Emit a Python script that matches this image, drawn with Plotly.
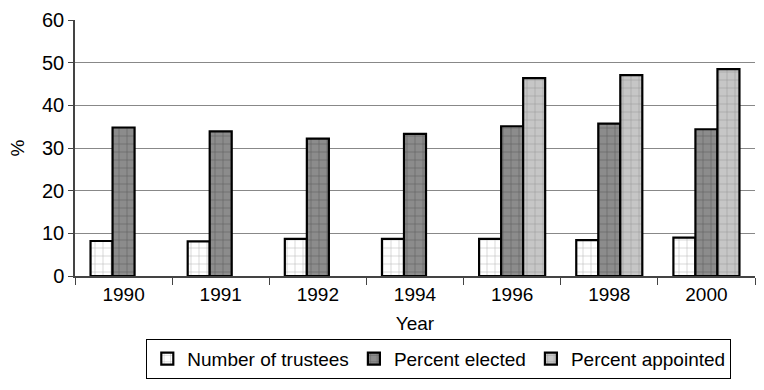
import plotly.graph_objects as go

years = ["1990", "1991", "1992", "1994", "1996", "1998", "2000"]
number_of_trustees = [8.2, 8.1, 8.7, 8.7, 8.7, 8.4, 9.0]
percent_elected = [34.8, 33.9, 32.2, 33.3, 35.1, 35.7, 34.4]
percent_appointed = [None, None, None, None, 46.4, 47.1, 48.5]
y_ticks = [0, 10, 20, 30, 40, 50, 60]

font_family = "Liberation Sans, Arial, sans-serif"

fig = go.Figure()
fig.add_trace(go.Bar(
    x=years, y=number_of_trustees, name="Number of trustees",
    marker=dict(color="white", line=dict(color="black", width=2.2),
                pattern=dict(shape="+", fgcolor="#666666", bgcolor="white",
                             size=8, solidity=0.12)),
))
fig.add_trace(go.Bar(
    x=years, y=percent_elected, name="Percent elected",
    marker=dict(color="#777777", line=dict(color="black", width=2.2),
                pattern=dict(shape="+", fgcolor="#3a3a3a", bgcolor="#8c8c8c",
                             size=8, solidity=0.15)),
))
fig.add_trace(go.Bar(
    x=years, y=percent_appointed, name="Percent appointed",
    marker=dict(color="#bbbbbb", line=dict(color="black", width=2.2),
                pattern=dict(shape="+", fgcolor="#666666", bgcolor="#c6c6c6",
                             size=8, solidity=0.12)),
))

fig.update_layout(
    width=764, height=390,
    margin=dict(l=75, r=9, t=14, b=114),
    paper_bgcolor="white", plot_bgcolor="white",
    barmode="group", bargap=0.32, bargroupgap=0,
    font=dict(family=font_family, size=19, color="black"),
    showlegend=True,
    legend=dict(
        orientation="h", x=0.535, xanchor="center", y=-0.245, yanchor="top",
        bordercolor="black", borderwidth=1, font=dict(size=19),
        itemwidth=30, tracegroupgap=0,
    ),
    xaxis=dict(
        title=dict(text="Year", standoff=13, font=dict(size=19)),
        type="category", showline=True, linecolor="#444444", linewidth=1.5,
        ticks="outside", tickson="boundaries", ticklen=7, tickcolor="#444444",
        tickfont=dict(size=19), showgrid=False,
    ),
    yaxis=dict(
        title=dict(text="%", standoff=12, font=dict(size=19)),
        range=[0, 60], tickvals=y_ticks, showline=True, linecolor="#444444",
        linewidth=1.5, ticks="outside", ticklen=5, tickcolor="#444444",
        tickfont=dict(size=20),
        showgrid=True, gridcolor="#888888", gridwidth=1.2, zeroline=False,
    ),
)

fig.write_html("out.html")
